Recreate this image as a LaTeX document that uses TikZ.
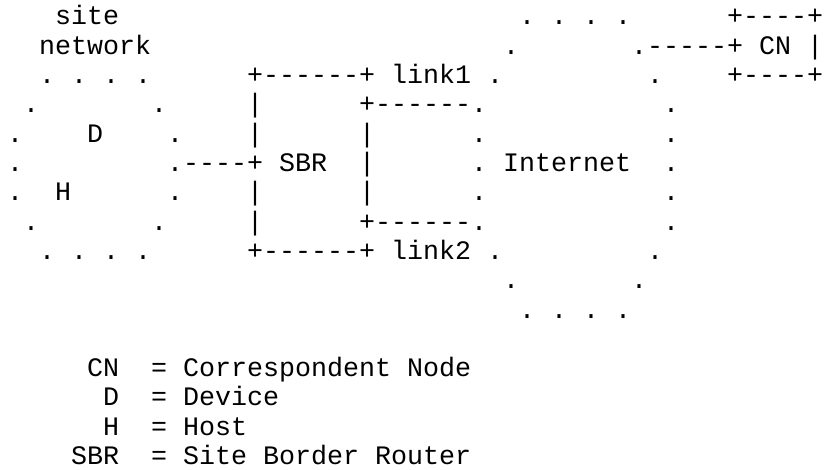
\documentclass[tikz,border=0pt]{standalone}
\usepackage{fontspec}
\setmonofont{Liberation Mono}
\tikzset{txt/.style={anchor=base west, inner sep=0pt, outer sep=0pt, font=\ttfamily\fontsize{26.667}{29.3}\selectfont, text=black}}
\newcommand\Tx[4]{\node[txt] (#1) at ({7+#2*16},{25+(#3-1)*29.3}) {#4};}
\begin{document}
\begin{tikzpicture}[x=1pt,y=-1pt]
\useasboundingbox[fill=white] (0,0) rectangle (826,470);
% row 1
\Tx{site}{3}{1}{site}
\Tx{inettop}{32}{1}{. . . .}
\Tx{cntop}{45}{1}{+----+}
% row 2
\Tx{network}{2}{2}{network}
\Tx{inetA}{31}{2}{.}
\Tx{cnlink}{39}{2}{.-----+ CN |}
% row 3
\Tx{sitetop}{2}{3}{. . . .}
\Tx{linkone}{15}{3}{+------+ link1 .}
\Tx{inetB}{40}{3}{.}
\Tx{cnbot}{45}{3}{+----+}
% row 4
\Tx{sA}{1}{4}{.}
\Tx{sB}{9}{4}{.}
\Tx{rA}{15}{4}{|}
\Tx{lA}{22}{4}{+------.}
\Tx{iA}{41}{4}{.}
% row 5
\Tx{sC}{0}{5}{.}
\Tx{dev}{5}{5}{D}
\Tx{sD}{10}{5}{.}
\Tx{rB}{15}{5}{|}
\Tx{lB}{22}{5}{|}
\Tx{iB}{29}{5}{.}
\Tx{iC}{41}{5}{.}
% row 6
\Tx{sE}{0}{6}{.}
\Tx{sbr}{10}{6}{.----+ SBR}
\Tx{lC}{22}{6}{|}
\Tx{internet}{29}{6}{. Internet}
\Tx{iD}{41}{6}{.}
% row 7
\Tx{sF}{0}{7}{.}
\Tx{host}{3}{7}{H}
\Tx{sG}{10}{7}{.}
\Tx{rC}{15}{7}{|}
\Tx{lD}{22}{7}{|}
\Tx{iE}{29}{7}{.}
\Tx{iF}{41}{7}{.}
% row 8
\Tx{sH}{1}{8}{.}
\Tx{sI}{9}{8}{.}
\Tx{rD}{15}{8}{|}
\Tx{lE}{22}{8}{+------.}
\Tx{iG}{41}{8}{.}
% row 9
\Tx{sitebot}{2}{9}{. . . .}
\Tx{linktwo}{15}{9}{+------+ link2 .}
\Tx{iH}{40}{9}{.}
% row 10
\Tx{iI}{31}{10}{.}
\Tx{iJ}{39}{10}{.}
% row 11
\Tx{inetbot}{32}{11}{. . . .}
% legend
\Tx{kCN}{5}{13}{CN}
\Tx{vCN}{9}{13}{= Correspondent Node}
\Tx{kD}{6}{14}{D}
\Tx{vD}{9}{14}{= Device}
\Tx{kH}{6}{15}{H}
\Tx{vH}{9}{15}{= Host}
\Tx{kSBR}{4}{16}{SBR}
\Tx{vSBR}{9}{16}{= Site Border Router}
\end{tikzpicture}
\end{document}
